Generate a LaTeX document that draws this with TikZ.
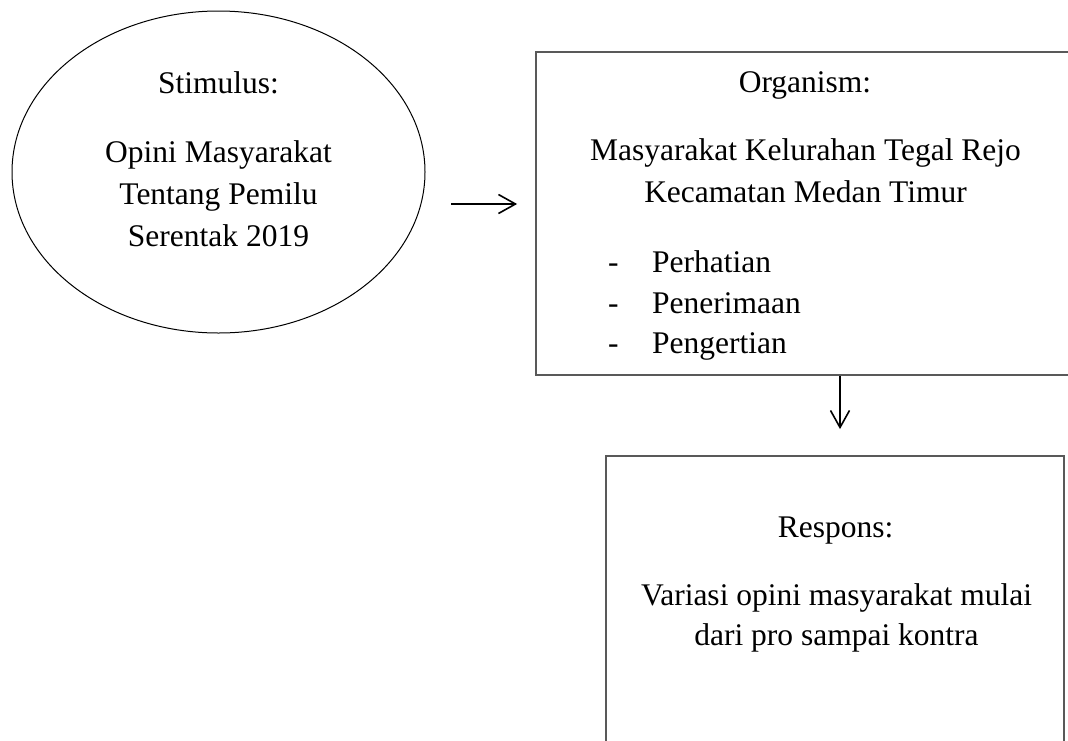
\documentclass[tikz,border=0pt]{standalone}
\usepackage{fontspec}
\setmainfont{Liberation Serif}
\usetikzlibrary{arrows.meta,shapes.geometric}
\begin{document}
\begin{tikzpicture}[x=1pt,y=-1pt,
  txt/.style={anchor=base,inner sep=0pt,font=\fontsize{31.5}{38}\selectfont},
  boxline/.style={draw=black!65,line width=1.8pt,inner sep=0pt},
  arr/.style={draw=black,line width=1.6pt,-{Straight Barb[length=17pt,width=19pt,line width=1.6pt]}}]
\useasboundingbox (0,0) rectangle (1068,740);
\clip (0,0) rectangle (1068,740);
% stimulus ellipse
\node[ellipse,draw=black,line width=1pt,minimum width=413pt,minimum height=322pt,inner sep=0pt] (stim) at (218.5,172) {};
\node[txt] (st1) at (218.5,93) {Stimulus:};
\node[txt] (st2) at (218.5,162) {Opini Masyarakat};
\node[txt] (st3) at (218.5,204) {Tentang Pemilu};
\node[txt] (st4) at (218.5,246) {Serentak 2019};
% organism box
\node[boxline,rectangle,minimum width=544pt,minimum height=323pt] (org) at (808,213.5) {};
\node[txt] (or1) at (805,92) {Organism:};
\node[txt] (or2) at (805.5,160) {Masyarakat Kelurahan Tegal Rejo};
\node[txt] (or3) at (805.5,202) {Kecamatan Medan Timur};
\node[txt,anchor=base west] (b1) at (608,272) {-};
\node[txt,anchor=base west] (b2) at (608,313) {-};
\node[txt,anchor=base west] (b3) at (608,353) {-};
\node[txt,anchor=base west] (i1) at (652,272) {Perhatian};
\node[txt,anchor=base west] (i2) at (652,313) {Penerimaan};
\node[txt,anchor=base west] (i3) at (652,353) {Pengertian};
% respons box
\node[boxline,rectangle,minimum width=458pt,minimum height=340pt] (resp) at (835,626) {};
\node[txt] (re1) at (835.5,537) {Respons:};
\node[txt] (re2) at (836.5,605) {Variasi opini masyarakat mulai};
\node[txt] (re3) at (836.5,645) {dari pro sampai kontra};
% connectors
\coordinate (lvl) at (0,204);
\coordinate (col) at (840,0);
\draw[arr,shorten <=25.5pt,shorten >=18pt] (stim.east |- lvl) -- (org.west |- lvl);
\draw[arr,shorten >=26pt] (org.south -| col) -- (resp.north -| col);
\end{tikzpicture}
\end{document}
